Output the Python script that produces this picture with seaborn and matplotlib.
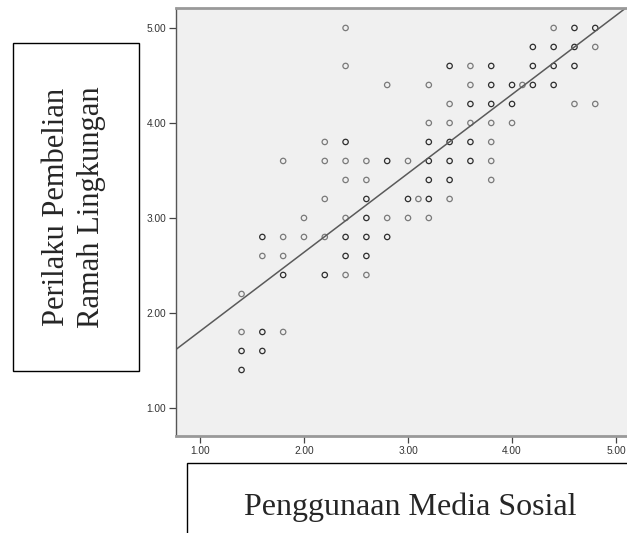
import numpy as np
import pandas as pd
import matplotlib
matplotlib.use('Agg')
import matplotlib.pyplot as plt
import seaborn as sns
from matplotlib.patches import Rectangle

# values (count = how many cases sit on the same spot)
media_sosial = [2.4, 4.4, 4.6, 4.8,
                4.2, 4.4, 4.6, 4.8,
                2.4, 3.4, 3.6, 3.8, 4.2, 4.4, 4.6,
                2.8, 3.2, 3.6, 3.8, 4.0, 4.1, 4.2, 4.4,
                3.4, 3.6, 3.8, 4.0, 4.6, 4.8,
                3.2, 3.4, 3.6, 3.8, 4.0,
                2.2, 2.4, 3.2, 3.4, 3.6, 3.8,
                1.8, 2.2, 2.4, 2.6, 2.8, 3.0, 3.2, 3.4, 3.6, 3.8,
                2.4, 2.6, 3.2, 3.4, 3.8,
                2.2, 2.6, 3.0, 3.1, 3.2, 3.4,
                2.0, 2.4, 2.6, 2.8, 3.0, 3.2,
                1.6, 1.8, 2.0, 2.2, 2.4, 2.6, 2.8,
                1.6, 1.8, 2.4, 2.6,
                1.8, 2.2, 2.4, 2.6,
                1.4,
                1.4, 1.6, 1.8,
                1.4, 1.6,
                1.4]
perilaku = [5.0, 5.0, 5.0, 5.0,
            4.8, 4.8, 4.8, 4.8,
            4.6, 4.6, 4.6, 4.6, 4.6, 4.6, 4.6,
            4.4, 4.4, 4.4, 4.4, 4.4, 4.4, 4.4, 4.4,
            4.2, 4.2, 4.2, 4.2, 4.2, 4.2,
            4.0, 4.0, 4.0, 4.0, 4.0,
            3.8, 3.8, 3.8, 3.8, 3.8, 3.8,
            3.6, 3.6, 3.6, 3.6, 3.6, 3.6, 3.6, 3.6, 3.6, 3.6,
            3.4, 3.4, 3.4, 3.4, 3.4,
            3.2, 3.2, 3.2, 3.2, 3.2, 3.2,
            3.0, 3.0, 3.0, 3.0, 3.0, 3.0,
            2.8, 2.8, 2.8, 2.8, 2.8, 2.8, 2.8,
            2.6, 2.6, 2.6, 2.6,
            2.4, 2.4, 2.4, 2.4,
            2.2,
            1.8, 1.8, 1.8,
            1.6, 1.6,
            1.4]
count = [1, 1, 2, 2,
         2, 2, 2, 1,
         1, 2, 1, 2, 2, 2, 2,
         1, 1, 1, 2, 2, 1, 2, 2,
         1, 2, 2, 2, 1, 1,
         1, 1, 1, 1, 1,
         1, 2, 2, 2, 2, 1,
         1, 1, 1, 1, 2, 1, 2, 2, 2, 1,
         1, 1, 2, 2, 1,
         1, 2, 2, 1, 2, 1,
         1, 1, 2, 1, 1, 1,
         2, 1, 1, 1, 2, 2, 2,
         1, 1, 2, 2,
         2, 2, 1, 1,
         1,
         1, 2, 1,
         2, 2,
         2]

df = pd.DataFrame({'x': media_sosial, 'y': perilaku, 'n': count})
cases = df.loc[df.index.repeat(df['n'])].reset_index(drop=True)

sns.set_style('white')
plt.rcParams['font.family'] = ['Liberation Sans', 'DejaVu Sans']

fig = plt.figure(figsize=(6.27, 5.33), dpi=100)
ax = fig.add_axes([176 / 627, 97 / 533, 464 / 627, 428 / 533])
ax.set_facecolor('#f0f0f0')
ax.set_xlim(0.77, 5.23)
ax.set_ylim(0.705, 5.21)

sns.scatterplot(data=df, x='x', y='y', hue='n', palette={1: '#7a7a7a', 2: '#2e2e2e'},
                s=15, linewidth=0.9, legend=False, ax=ax)
pts = ax.collections[0]
pts.set_edgecolors(pts.get_facecolors())
pts.set_facecolors('none')

sns.regplot(data=cases, x='x', y='y', scatter=False, ci=None, truncate=False,
            line_kws={'color': '#5a5a5a', 'lw': 1.1}, ax=ax)
ax.set_xlim(0.77, 5.23)
ax.set_ylim(0.705, 5.21)

ticks = [1.0, 2.0, 3.0, 4.0, 5.0]
ax.set_xticks(ticks)
ax.set_yticks(ticks)
ax.set_xticklabels([f'{t:.2f}' for t in ticks])
ax.set_yticklabels([f'{t:.2f}' for t in ticks])
ax.tick_params(axis='both', direction='out', length=5, width=0.9, color='#444444',
               labelsize=7.3, labelcolor='#333333', pad=2, bottom=True, left=True)
ax.set_xlabel('')
ax.set_ylabel('')
for side in ['top', 'bottom']:
    ax.spines[side].set_color('#999999')
    ax.spines[side].set_linewidth(2)
ax.spines['left'].set_color('#555555')
ax.spines['left'].set_linewidth(1)
ax.spines['right'].set_visible(False)

# y label box
fig.patches.append(Rectangle((13 / 627, 1 - 371 / 533), 126 / 627, 328 / 533,
                             transform=fig.transFigure, fill=False, lw=1, ec='black'))
fig.text(74 / 627, 1 - 207 / 533, 'Perilaku Pembelian\nRamah Lingkungan', rotation=90,
         ha='center', va='center', fontsize=22, family='Liberation Serif', linespacing=1.25)

# x label box
fig.patches.append(Rectangle((187 / 627, -0.05), 0.8, 1 - 463 / 533 + 0.05,
                             transform=fig.transFigure, fill=False, lw=1, ec='black'))
fig.text(410 / 627, 1 - 515 / 533, 'Penggunaan Media Sosial', ha='center', va='baseline',
         fontsize=23, family='Liberation Serif')

fig.savefig('out.png', dpi=100)
